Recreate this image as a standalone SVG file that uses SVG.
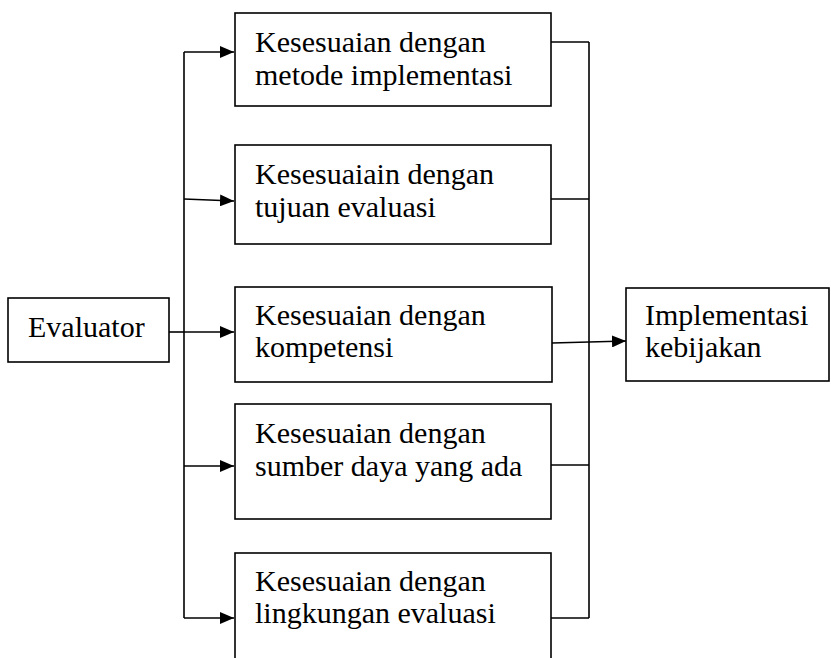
<svg xmlns="http://www.w3.org/2000/svg" width="831" height="658" viewBox="0 0 831 658">
<style>
.box{fill:#fff;stroke:#000;stroke-width:1.6}
.t{font-family:"Liberation Serif","Times New Roman",serif;font-size:30px;fill:#000}
.c{fill:none;stroke:#000;stroke-width:1.6}
</style>
<defs>
<marker id="ah" viewBox="0 0 14 12" refX="14" refY="6" markerWidth="14" markerHeight="12" markerUnits="userSpaceOnUse" orient="auto">
<path d="M0,0 L14,6 L0,12 Z" fill="#000"/>
</marker>
</defs>
<rect width="831" height="658" fill="#fff"/>
<g id="connectors">
<path class="c" d="M184,52 V618"/>
<path class="c" d="M169,332 H184"/>
<path class="c" d="M184,52 H234" marker-end="url(#ah)"/>
<path class="c" d="M184,199 L234,201" marker-end="url(#ah)"/>
<path class="c" d="M184,332 H234" marker-end="url(#ah)"/>
<path class="c" d="M184,466 H234" marker-end="url(#ah)"/>
<path class="c" d="M184,618 H234" marker-end="url(#ah)"/>
<path class="c" d="M589,42 V618"/>
<path class="c" d="M551,42 H589"/>
<path class="c" d="M551,199 H589"/>
<path class="c" d="M551,465 H589"/>
<path class="c" d="M551,618 H589"/>
<path class="c" d="M552,343 L626,341" marker-end="url(#ah)"/>
</g>
<g id="evaluator">
<rect class="box" x="8" y="298" width="161" height="64"/>
<text class="t" x="28" y="337">Evaluator</text>
</g>
<g id="box1">
<rect class="box" x="235" y="13" width="316" height="93"/>
<text class="t" x="255" y="52">Kesesuaian dengan</text>
<text class="t" x="255" y="85">metode implementasi</text>
</g>
<g id="box2">
<rect class="box" x="235" y="145" width="316" height="99"/>
<text class="t" x="255" y="184">Kesesuaiain dengan</text>
<text class="t" x="255" y="217">tujuan evaluasi</text>
</g>
<g id="box3">
<rect class="box" x="235" y="287" width="317" height="95"/>
<text class="t" x="255" y="325">Kesesuaian dengan</text>
<text class="t" x="255" y="357">kompetensi</text>
</g>
<g id="box4">
<rect class="box" x="235" y="404" width="316" height="115"/>
<text class="t" x="255" y="443">Kesesuaian dengan</text>
<text class="t" x="255" y="476">sumber daya yang ada</text>
</g>
<g id="box5">
<rect class="box" x="235" y="553" width="316" height="120"/>
<text class="t" x="255" y="591">Kesesuaian dengan</text>
<text class="t" x="255" y="623">lingkungan evaluasi</text>
</g>
<g id="implementasi">
<rect class="box" x="626" y="288" width="203" height="93"/>
<text class="t" x="645" y="325">Implementasi</text>
<text class="t" x="645" y="357">kebijakan</text>
</g>
</svg>
